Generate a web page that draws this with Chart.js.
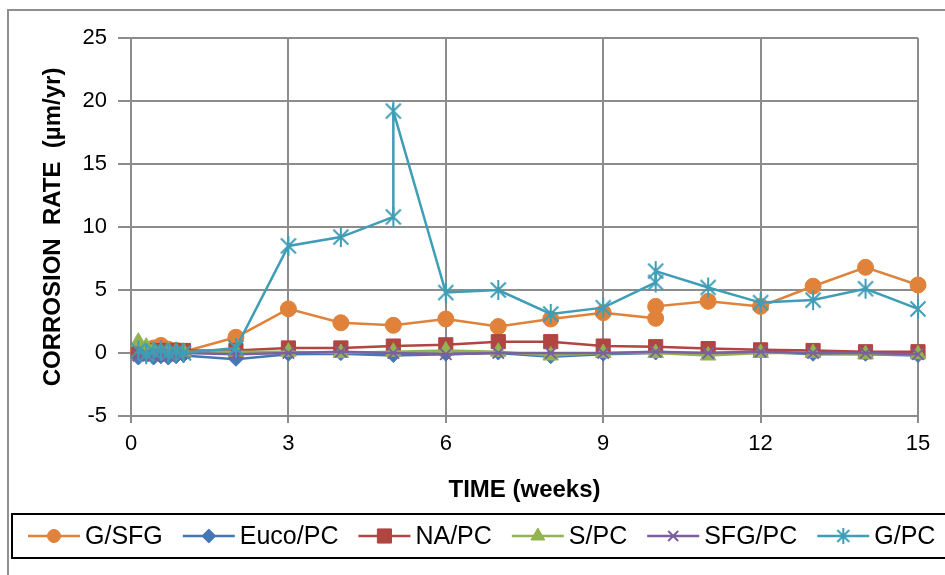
<!DOCTYPE html>
<html>
<head>
<meta charset="utf-8">
<title>Corrosion rate</title>
<script src="https://cdn.jsdelivr.net/npm/chart.js@4.4.1/dist/chart.umd.min.js"></script>
<style>
  html, body { margin: 0; padding: 0; background: #fff; }
  #wrap { width: 945px; height: 575px; }
</style>
</head>
<body>
<div id="wrap"><canvas id="chart" width="945" height="575"></canvas></div>
<script>
// ----- Data -----
// time in weeks (first week read daily)
const weeks = [0.14, 0.29, 0.43, 0.57, 0.71, 0.86, 1, 2, 3, 4, 5, 6, 7, 8, 9, 10, 11, 12, 13, 14, 15];
// G/SFG has two readings at week 10, G/PC at weeks 5 and 10
const weeksGSFG = [0.14, 0.29, 0.43, 0.57, 0.71, 0.86, 1, 2, 3, 4, 5, 6, 7, 8, 9, 10, 10, 11, 12, 13, 14, 15];
const weeksGPC = [0.14, 0.29, 0.43, 0.57, 0.71, 0.86, 1, 2, 3, 4, 5, 5, 6, 7, 8, 9, 10, 10, 11, 12, 13, 14, 15];

// corrosion rate, µm/yr
const gsfg  = [0.2, 0.3, 0.4, 0.6, 0.3, 0.2, 0.1, 1.25, 3.5, 2.4, 2.2, 2.7, 2.1, 2.7, 3.2, 2.75, 3.7, 4.1, 3.7, 5.3, 6.8, 5.4];
const euco  = [-0.4, -0.2, -0.4, -0.3, -0.4, -0.3, -0.2, -0.5, -0.1, -0.05, -0.2, -0.1, 0, -0.3, -0.1, 0, 0, 0.1, -0.1, -0.1, -0.2];
const napc  = [0.2, 0.2, 0.1, 0.2, 0.2, 0.2, 0.2, 0.2, 0.4, 0.4, 0.55, 0.65, 0.9, 0.9, 0.55, 0.5, 0.35, 0.25, 0.2, 0.1, 0.1];
const spc   = [0.9, 0.5, 0.2, 0.1, 0.2, 0.1, 0.1, 0.1, 0.1, 0, 0.1, 0.2, 0.1, -0.2, 0, 0, -0.2, 0, 0, -0.1, -0.1];
const sfgpc = [-0.2, -0.1, -0.2, -0.1, -0.2, -0.1, 0, -0.1, 0, 0.1, 0, -0.1, 0, 0, 0, 0.1, 0, 0.1, 0, 0, -0.1];
const gpc   = [0.2, -0.1, 0.1, 0.2, 0, 0.1, 0, 0.4, 8.5, 9.2, 10.8, 19.2, 4.8, 5.0, 3.1, 3.6, 5.6, 6.5, 5.2, 4.0, 4.2, 5.1, 3.5];

const labels = ["G/SFG", "Euco/PC", "NA/PC", "S/PC", "SFG/PC", "G/PC"];
const colors = ["#E0823A", "#4677B5", "#B04542", "#92B352", "#7B5F9F", "#3F9DB6"];

const FONT = '"Liberation Sans", Arial, sans-serif';

// Helpers
function toPoints(xs, ys) {
  return xs.map((x, i) => ({ x: x, y: ys[i] }));
}

// asterisk marker: an X with a vertical bar
function makeAsterisk(color, r) {
  const c = document.createElement("canvas");
  const s = Math.ceil(r * 2 + 4);
  c.width = s; c.height = s;
  const g = c.getContext("2d");
  const m = s / 2, d = r * 0.75;
  g.strokeStyle = color;
  g.lineWidth = 2;
  g.beginPath();
  g.moveTo(m - d, m - d); g.lineTo(m + d, m + d);
  g.moveTo(m + d, m - d); g.lineTo(m - d, m + d);
  g.moveTo(m, m - r); g.lineTo(m, m + r);
  g.stroke();
  return c;
}

const starBig = makeAsterisk(colors[5], 10);
const starSmall = makeAsterisk(colors[5], 8);

function series(i, xs, ys, style, radius) {
  return {
    label: labels[i],
    data: toPoints(xs, ys),
    borderColor: colors[i],
    backgroundColor: colors[i],
    borderWidth: 2.5,
    pointStyle: style,
    pointRadius: radius,
    pointBorderWidth: style === "crossRot" ? 2 : 1,
    pointBorderColor: colors[i],
    pointBackgroundColor: colors[i],
    tension: 0,
    clip: false,
    order: 5 - i   // later series drawn on top
  };
}

const datasets = [
  series(0, weeksGSFG, gsfg, "circle", 8),
  series(1, weeks, euco, "rectRot", 7),
  series(2, weeks, napc, "rect", 10),
  series(3, weeks, spc, "triangle", 9),
  series(4, weeks, sfgpc, "crossRot", 8),
  series(5, weeksGPC, gpc, starBig, 10)
];

// legend markers, a bit smaller than on the plot
const legendMarks = [
  { style: "circle", r: 6.5 },
  { style: "rectRot", r: 7 },
  { style: "rect", r: 10 },
  { style: "triangle", r: 8 },
  { style: "crossRot", r: 7 },
  { style: starSmall, r: 8 }
];

// ----- Frame + legend drawn on the canvas -----
const frame = {
  id: "frame",
  beforeDraw(chart) {
    const ctx = chart.ctx;
    ctx.save();
    ctx.strokeStyle = "#8f8f8f";
    ctx.lineWidth = 2;
    ctx.beginPath();
    ctx.moveTo(8, 575);
    ctx.lineTo(8, 10);
    ctx.lineTo(945, 10);
    ctx.stroke();
    ctx.restore();
  },
  afterDraw(chart) {
    const ctx = chart.ctx;
    ctx.save();
    ctx.lineWidth = 2;
    ctx.strokeStyle = "#000";
    ctx.strokeRect(12, 514, 950, 44);

    ctx.font = "25px " + FONT;
    ctx.textBaseline = "middle";
    ctx.textAlign = "left";
    const cy = 536;
    let x = 28;
    chart.data.datasets.forEach((ds, i) => {
      ctx.strokeStyle = ds.borderColor;
      ctx.fillStyle = ds.borderColor;
      ctx.lineWidth = 2.5;
      ctx.beginPath();
      ctx.moveTo(x, cy);
      ctx.lineTo(x + 52, cy);
      ctx.stroke();
      const mk = legendMarks[i];
      ctx.lineWidth = mk.style === "crossRot" ? 2 : 1;
      Chart.helpers.drawPoint(ctx, { pointStyle: mk.style, radius: mk.r, rotation: 0, borderWidth: ctx.lineWidth }, x + 26, cy);
      ctx.fillStyle = "#000";
      ctx.fillText(ds.label, x + 57, cy + 1);
      x += 57 + ctx.measureText(ds.label).width + 20;
    });
    ctx.restore();
  }
};

// ----- Chart -----
const gridColor = "#8c8c8c";

new Chart(document.getElementById("chart"), {
  type: "line",
  data: { datasets },
  options: {
    responsive: false,
    animation: false,
    devicePixelRatio: 1,
    layout: { padding: { left: 11, right: 27, top: 38, bottom: 69 } },
    plugins: {
      legend: { display: false },
      tooltip: { enabled: false }
    },
    scales: {
      x: {
        type: "linear",
        min: 0,
        max: 15,
        afterFit(scale) { scale.height = 90; },
        ticks: { stepSize: 3, color: "#000", font: { family: FONT, size: 22 }, padding: 8, maxRotation: 0 },
        grid: { color: gridColor, lineWidth: 2, tickLength: 7, tickColor: gridColor },
        border: { color: gridColor, width: 2 },
        title: {
          display: true,
          text: "TIME (weeks)",
          color: "#000",
          font: { family: FONT, size: 24, weight: "bold" },
          padding: { top: 0, bottom: 1 }
        }
      },
      y: {
        min: -5,
        max: 25,
        afterFit(scale) { scale.width = 120; },
        ticks: { stepSize: 5, color: "#000", font: { family: FONT, size: 22 }, padding: 11 },
        grid: { color: gridColor, lineWidth: 2, tickLength: 13, tickColor: gridColor },
        border: { color: gridColor, width: 2 },
        title: {
          display: true,
          text: "CORROSION  RATE  (µm/yr)",
          color: "#000",
          font: { family: FONT, size: 24, weight: "bold" },
          padding: { top: 28, bottom: 0 }
        }
      }
    }
  },
  plugins: [frame]
});
</script>
</body>
</html>
